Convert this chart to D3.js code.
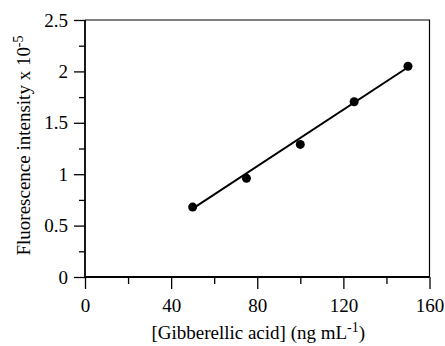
<!DOCTYPE html>
<html><head><meta charset="utf-8">
<script src="https://cdn.jsdelivr.net/npm/d3@7"></script>
<style>body{margin:0;background:#fff}svg{display:block}</style>
</head><body>
<script>
const concentrations = [50, 75, 100, 125, 150];
const intensities = [0.68, 0.96, 1.29, 1.705, 2.05];
const fitX = [50, 150];
const fitY = [0.665, 2.04];
const xTicks = [0, 40, 80, 120, 160];
const xMinor = [20, 60, 100, 140];
const yTicks = [0, 0.5, 1, 1.5, 2, 2.5];
const yMinor = [0.25, 0.75, 1.25, 1.75, 2.25];

const W = 445, H = 346;
const FONT = "Liberation Serif";
const FS = 19;
const svg = d3.select("body").append("svg").attr("width", W).attr("height", H)
  .attr("font-family", FONT);
const x = d3.scaleLinear().domain([0, 160]).range([85, 429.5]);
const y = d3.scaleLinear().domain([0, 2.5]).range([277, 20]);

// frame top/right
svg.append("path").attr("d", `M${x(0)},${y(2.5)}H${x(160)}V${y(0)}`)
  .attr("fill", "none").attr("stroke", "#000").attr("stroke-width", 1.2);

const xAxis = svg.append("g").attr("transform", `translate(0,${y(0)})`)
  .call(d3.axisBottom(x).tickValues(xTicks).tickSize(12).tickPadding(10).tickFormat(d3.format("d")));
svg.append("g").attr("transform", `translate(0,${y(0)})`)
  .call(d3.axisBottom(x).tickValues(xMinor).tickSize(7).tickFormat(""))
  .call(g => g.select(".domain").remove());
const yAxis = svg.append("g").attr("transform", `translate(${x(0)},0)`)
  .call(d3.axisLeft(y).tickValues(yTicks).tickSize(11).tickPadding(6).tickFormat(d => d3.format("")(d)));
svg.append("g").attr("transform", `translate(${x(0)},0)`)
  .call(d3.axisLeft(y).tickValues(yMinor).tickSize(6).tickFormat(""))
  .call(g => g.select(".domain").remove());

svg.selectAll("g").attr("font-family", FONT).attr("font-size", FS);
svg.selectAll(".domain").attr("stroke-width", 1.8);
svg.selectAll(".tick line").attr("stroke-width", 1.3);
svg.selectAll(".tick text").attr("font-family", FONT).attr("font-size", FS).attr("fill", "#000");
xAxis.select(".domain").attr("d", `M${x(0)},0H${x(160)}`);
yAxis.select(".domain").attr("d", `M0,${y(2.5)}V${y(0)}`);

// fit line
svg.append("path")
  .datum(fitX.map((v, i) => [v, fitY[i]]))
  .attr("d", d3.line().x(d => x(d[0])).y(d => y(d[1])))
  .attr("fill", "none").attr("stroke", "#000").attr("stroke-width", 2);

svg.selectAll("circle").data(concentrations).join("circle")
  .attr("cx", d => x(d)).attr("cy", (d, i) => y(intensities[i]))
  .attr("r", 4.5).attr("fill", "#000");

// x label
const xl = svg.append("text").attr("x", (x(0) + x(160)) / 2 + 1).attr("y", 339)
  .attr("text-anchor", "middle").attr("font-family", FONT).attr("font-size", FS);
xl.append("tspan").text("[Gibberellic acid] (ng mL");
xl.append("tspan").attr("dy", -7).attr("font-size", 14).text("-1");
xl.append("tspan").attr("dy", 7).text(")");

// y label
const yl = svg.append("text").attr("transform", `translate(30,${(y(0) + y(2.5)) / 2 - 3}) rotate(-90)`)
  .attr("text-anchor", "middle").attr("font-family", FONT).attr("font-size", FS);
yl.append("tspan").text("Fluorescence intensity x 10");
yl.append("tspan").attr("dy", -7).attr("font-size", 14).text("-5");
</script>
</body></html>
